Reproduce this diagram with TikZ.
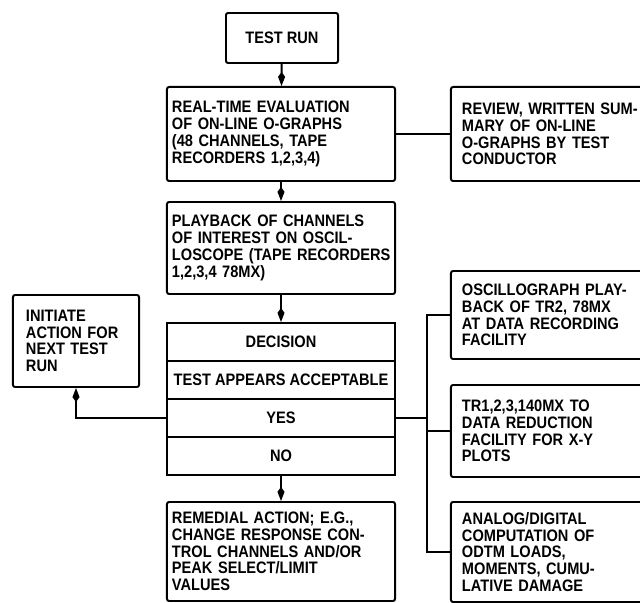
\documentclass[tikz,border=0pt]{standalone}
\usepackage{fontspec}
\setmainfont[FakeStretch=0.88]{Liberation Sans}
\usetikzlibrary{arrows.meta}
\tikzset{
  blk/.style={draw,line width=1.4pt,rounded corners=1.5pt,align=left,font=\fontsize{11.8}{11.9}\selectfont\bfseries,inner xsep=0.3cm,inner ysep=0pt},
  mainbox/.style={blk,text width=5.45cm,inner xsep=0.125cm},
  sidebox/.style={blk,text width=4.675cm,inner xsep=0.275cm},
  row/.style={blk,rounded corners=0pt,align=center,inner xsep=0pt,minimum width=5.7cm,minimum height=0.95cm},
  flow/.style={-{Kite[length=10pt,width=5pt,inset=3.5pt]},line width=1.4pt},
  wire/.style={line width=1.4pt},
}
\begin{document}
\begin{tikzpicture}[x=0.025cm,y=-0.025cm]
  \useasboundingbox (0,0) rectangle (640,603);
  \node[blk,align=center,minimum width=2.8cm,minimum height=1.25cm] (run) at (282,38) {TEST RUN};
  \node[mainbox,minimum height=2.35cm] (eval) at (281,134) {REAL-TIME EVALUATION\\OF ON-LINE O-GRAPHS\\(48 CHANNELS, TAPE\\RECORDERS 1,2,3,4)};
  \node[mainbox,minimum height=2.3cm] (play) at (281,248) {PLAYBACK OF CHANNELS\\OF INTEREST ON OSCIL-\\\mbox{LOSCOPE (TAPE RECORDERS}\\1,2,3,4 78MX)};
  \foreach \t/\n/\y in {DECISION/dec/342,TEST APPEARS ACCEPTABLE/acc/380,YES/yes/418,NO/no/456}
    \node[row] (\n) at (281,\y) {\t};
  \node[mainbox,minimum height=2.475cm] (fix) at (281,551.5) {REMEDIAL ACTION; E.G.,\\CHANGE RESPONSE CON-\\TROL CHANNELS AND/OR\\PEAK SELECT/LIMIT\\VALUES};
  \node[blk,text width=2.5cm,inner xsep=0.325cm,minimum height=2.3cm] (next) at (76,341) {INITIATE\\ACTION FOR\\NEXT TEST\\RUN};
  \node[sidebox,minimum height=2.35cm] (rev) at (555.5,134) {REVIEW, WRITTEN SUM-\\MARY OF ON-LINE\\O-GRAPHS BY TEST\\CONDUCTOR};
  \node[sidebox,minimum height=2.2cm] (osc) at (555.5,315) {OSCILLOGRAPH PLAY-\\BACK OF TR2, 78MX\\AT DATA RECORDING\\FACILITY};
  \node[sidebox,minimum height=2.3cm] (red) at (555.5,431) {TR1,2,3,140MX TO\\DATA REDUCTION\\FACILITY FOR X-Y\\PLOTS};
  \node[sidebox,minimum height=2.5cm] (cmp) at (555.5,552) {ANALOG/DIGITAL\\COMPUTATION OF\\ODTM LOADS,\\MOMENTS, CUMU-\\LATIVE DAMAGE};
  \coordinate (bus) at (427,418);
  \draw[flow] (run) -- (eval);
  \draw[flow] (eval) -- (play);
  \draw[flow] (play) -- (dec);
  \draw[flow] (no) -- (fix);
  \draw[wire] (eval) -- (rev);
  \draw[flow] (yes.west) -| (next.south);
  \draw[wire] (yes) -- (bus);
  \foreach \n in {osc,red,cmp} \draw[wire] (bus) |- (\n.west);
\end{tikzpicture}
\end{document}
